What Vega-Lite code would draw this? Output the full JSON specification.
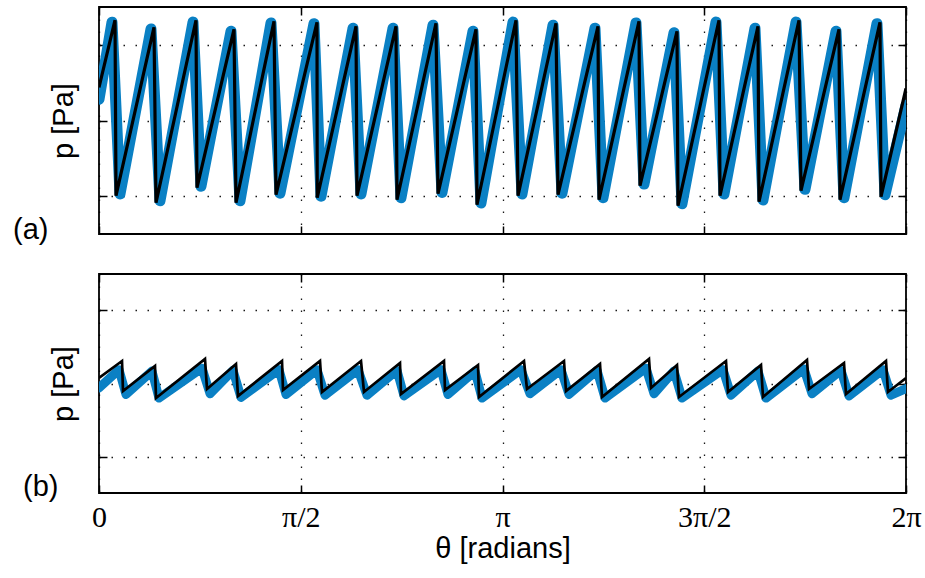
{
  "$schema": "https://vega.github.io/schema/vega-lite/v6.json",
  "padding": {"left": 12, "top": 5, "right": 5, "bottom": 5},
  "background": "white",
  "spacing": 40,
  "bounds": "flush",
  "config": {
    "view": {"stroke": "black", "strokeWidth": 1.8},
    "font": "Liberation Sans",
    "axis": {"domain": false, "tickColor": "black", "tickWidth": 1.5, "gridColor": "black", "gridDash": [1.5, 10.5], "gridWidth": 1.3, "gridOpacity": 0.9, "titleColor": "black", "labelColor": "black", "titleFontWeight": "normal"}
  },
  "datasets": {
    "topBlack": [
      {"theta": 0, "p": 0.437},
      {"theta": 0.1246, "p": 1.325}, {"theta": 0.1324, "p": -0.993},
      {"theta": 0.4282, "p": 1.232}, {"theta": 0.4438, "p": -1.086},
      {"theta": 0.7552, "p": 1.325}, {"theta": 0.7630, "p": -0.887},
      {"theta": 1.0511, "p": 1.205}, {"theta": 1.0667, "p": -1.086},
      {"theta": 1.3625, "p": 1.311}, {"theta": 1.3781, "p": -0.980},
      {"theta": 1.6973, "p": 1.298}, {"theta": 1.6990, "p": -1.020},
      {"theta": 2.0010, "p": 1.245}, {"theta": 2.0087, "p": -0.993},
      {"theta": 2.3124, "p": 1.245}, {"theta": 2.3202, "p": -1.046},
      {"theta": 2.6238, "p": 1.285}, {"theta": 2.6394, "p": -0.967},
      {"theta": 2.9352, "p": 1.205}, {"theta": 2.9430, "p": -1.113},
      {"theta": 3.2467, "p": 1.325}, {"theta": 3.2623, "p": -0.993},
      {"theta": 3.5581, "p": 1.285}, {"theta": 3.5737, "p": -0.980},
      {"theta": 3.8851, "p": 1.245}, {"theta": 3.8929, "p": -1.046},
      {"theta": 4.2043, "p": 1.311}, {"theta": 4.2121, "p": -0.861},
      {"theta": 4.5002, "p": 1.179}, {"theta": 4.5080, "p": -1.126},
      {"theta": 4.8272, "p": 1.325}, {"theta": 4.8350, "p": -0.993},
      {"theta": 5.1308, "p": 1.245}, {"theta": 5.1386, "p": -1.073},
      {"theta": 5.4501, "p": 1.325}, {"theta": 5.4656, "p": -0.927},
      {"theta": 5.7615, "p": 1.205}, {"theta": 5.7693, "p": -1.046},
      {"theta": 6.0807, "p": 1.298}, {"theta": 6.0885, "p": -1.007},
      {"theta": 6.2832, "p": 0.424}
    ],
    "topBlue": [
      {"theta": 0, "p": 0.28},
      {"theta": 0.1012, "p": 1.30}, {"theta": 0.1635, "p": -0.97},
      {"theta": 0.4048, "p": 1.21}, {"theta": 0.4749, "p": -1.06},
      {"theta": 0.7318, "p": 1.30}, {"theta": 0.7941, "p": -0.87},
      {"theta": 1.0277, "p": 1.18}, {"theta": 1.0978, "p": -1.06},
      {"theta": 1.3391, "p": 1.29}, {"theta": 1.4092, "p": -0.96},
      {"theta": 1.6739, "p": 1.28}, {"theta": 1.7284, "p": -1.00},
      {"theta": 1.9776, "p": 1.22}, {"theta": 2.0398, "p": -0.97},
      {"theta": 2.2890, "p": 1.22}, {"theta": 2.3513, "p": -1.02},
      {"theta": 2.6004, "p": 1.26}, {"theta": 2.6705, "p": -0.95},
      {"theta": 2.9118, "p": 1.18}, {"theta": 2.9741, "p": -1.09},
      {"theta": 3.2233, "p": 1.30}, {"theta": 3.2934, "p": -0.97},
      {"theta": 3.5347, "p": 1.26}, {"theta": 3.6048, "p": -0.96},
      {"theta": 3.8617, "p": 1.22}, {"theta": 3.9240, "p": -1.02},
      {"theta": 4.1809, "p": 1.29}, {"theta": 4.2432, "p": -0.84},
      {"theta": 4.4768, "p": 1.16}, {"theta": 4.5391, "p": -1.10},
      {"theta": 4.8038, "p": 1.30}, {"theta": 4.8661, "p": -0.97},
      {"theta": 5.1074, "p": 1.22}, {"theta": 5.1697, "p": -1.05},
      {"theta": 5.4267, "p": 1.30}, {"theta": 5.4967, "p": -0.91},
      {"theta": 5.7381, "p": 1.18}, {"theta": 5.8004, "p": -1.02},
      {"theta": 6.0573, "p": 1.28}, {"theta": 6.1196, "p": -0.98},
      {"theta": 6.2832, "p": 0.20}
    ],
    "botBlack": [
      {"theta": 0, "p": 0.075},
      {"theta": 0.1791, "p": 0.308}, {"theta": 0.1869, "p": -0.103},
      {"theta": 0.4360, "p": 0.240}, {"theta": 0.4438, "p": -0.199},
      {"theta": 0.8253, "p": 0.336}, {"theta": 0.8409, "p": -0.075},
      {"theta": 1.0667, "p": 0.267}, {"theta": 1.0822, "p": -0.171},
      {"theta": 1.4248, "p": 0.308}, {"theta": 1.4326, "p": -0.089},
      {"theta": 1.7207, "p": 0.308}, {"theta": 1.7362, "p": -0.116},
      {"theta": 2.0399, "p": 0.308}, {"theta": 2.0632, "p": -0.116},
      {"theta": 2.3435, "p": 0.281}, {"theta": 2.3513, "p": -0.144},
      {"theta": 2.6861, "p": 0.308}, {"theta": 2.6939, "p": -0.089},
      {"theta": 2.9508, "p": 0.253}, {"theta": 2.9586, "p": -0.185},
      {"theta": 3.3090, "p": 0.308}, {"theta": 3.3323, "p": -0.075},
      {"theta": 3.6204, "p": 0.308}, {"theta": 3.6360, "p": -0.103},
      {"theta": 3.9007, "p": 0.267}, {"theta": 3.9163, "p": -0.185},
      {"theta": 4.2822, "p": 0.336}, {"theta": 4.2978, "p": -0.062},
      {"theta": 4.5002, "p": 0.253}, {"theta": 4.5158, "p": -0.185},
      {"theta": 4.8817, "p": 0.308}, {"theta": 4.8973, "p": -0.116},
      {"theta": 5.1542, "p": 0.253}, {"theta": 5.1698, "p": -0.185},
      {"theta": 5.5123, "p": 0.322}, {"theta": 5.5279, "p": -0.075},
      {"theta": 5.8004, "p": 0.281}, {"theta": 5.8160, "p": -0.144},
      {"theta": 6.1274, "p": 0.308}, {"theta": 6.1430, "p": -0.116},
      {"theta": 6.2832, "p": 0.075}
    ],
    "botBlue": [
      {"theta": 0, "p": -0.06},
      {"theta": 0.1557, "p": 0.19}, {"theta": 0.2103, "p": -0.15},
      {"theta": 0.4126, "p": 0.17}, {"theta": 0.4672, "p": -0.20},
      {"theta": 0.8019, "p": 0.21}, {"theta": 0.8643, "p": -0.14},
      {"theta": 1.0433, "p": 0.18}, {"theta": 1.1056, "p": -0.19},
      {"theta": 1.4014, "p": 0.19}, {"theta": 1.4560, "p": -0.15},
      {"theta": 1.6973, "p": 0.19}, {"theta": 1.7596, "p": -0.16},
      {"theta": 2.0165, "p": 0.19}, {"theta": 2.0866, "p": -0.16},
      {"theta": 2.3201, "p": 0.18}, {"theta": 2.3747, "p": -0.17},
      {"theta": 2.6627, "p": 0.19}, {"theta": 2.7173, "p": -0.15},
      {"theta": 2.9274, "p": 0.17}, {"theta": 2.9820, "p": -0.20},
      {"theta": 3.2856, "p": 0.19}, {"theta": 3.3557, "p": -0.14},
      {"theta": 3.5970, "p": 0.19}, {"theta": 3.6594, "p": -0.15},
      {"theta": 3.8773, "p": 0.18}, {"theta": 3.9397, "p": -0.20},
      {"theta": 4.2588, "p": 0.21}, {"theta": 4.3212, "p": -0.14},
      {"theta": 4.4768, "p": 0.17}, {"theta": 4.5392, "p": -0.20},
      {"theta": 4.8583, "p": 0.19}, {"theta": 4.9207, "p": -0.16},
      {"theta": 5.1308, "p": 0.17}, {"theta": 5.1932, "p": -0.20},
      {"theta": 5.4889, "p": 0.20}, {"theta": 5.5513, "p": -0.14},
      {"theta": 5.7770, "p": 0.18}, {"theta": 5.8394, "p": -0.17},
      {"theta": 6.1040, "p": 0.19}, {"theta": 6.1664, "p": -0.16},
      {"theta": 6.2832, "p": -0.07}
    ]
  },
  "vconcat": [
    {
      "width": 807,
      "height": 227,
      "title": {"text": "(a)", "orient": "bottom", "anchor": "start", "frame": "group", "offset": 0, "dx": -86, "dy": -19, "fontSize": 29, "fontWeight": "normal", "font": "Liberation Sans", "baseline": "top", "color": "black"},
      "layer": [
        {
          "data": {"name": "topBlue"},
          "mark": {"type": "line", "color": "#0a80c4", "strokeWidth": 11, "strokeJoin": "round", "strokeCap": "round", "clip": true},
          "encoding": {
            "x": {"field": "theta", "type": "quantitative", "scale": {"domain": [0, 6.2832], "nice": false, "zero": false},
              "axis": {"orient": "bottom", "values": [0, 1.5708, 3.1416, 4.7124, 6.2832], "labels": false, "tickSize": -8, "grid": true, "title": null}},
            "y": {"field": "p", "type": "quantitative", "scale": {"domain": [-1.5, 1.5], "nice": false, "zero": false},
              "axis": {"orient": "left", "values": [-1, 0, 1], "labels": false, "tickSize": -8, "grid": true, "title": "p [Pa]", "titleFontSize": 29, "titleFont": "Liberation Sans", "titlePadding": 20}}
          }
        },
        {
          "data": {"name": "topBlack"},
          "mark": {"type": "line", "color": "black", "strokeWidth": 3.2, "clip": true},
          "encoding": {
            "x": {"field": "theta", "type": "quantitative", "scale": {"domain": [0, 6.2832], "nice": false, "zero": false},
              "axis": {"orient": "top", "values": [0, 1.5708, 3.1416, 4.7124, 6.2832], "labels": false, "tickSize": -8, "grid": false, "title": null}},
            "y": {"field": "p", "type": "quantitative", "scale": {"domain": [-1.5, 1.5], "nice": false, "zero": false},
              "axis": {"orient": "right", "values": [-1, 0, 1], "labels": false, "tickSize": -8, "grid": false, "title": null}}
          }
        }
      ],
      "resolve": {"axis": {"x": "independent", "y": "independent"}}
    },
    {
      "width": 807,
      "height": 219,
      "title": {"text": "(b)", "orient": "bottom", "anchor": "start", "frame": "group", "offset": 0, "dx": -76, "dy": -90, "fontSize": 29, "fontWeight": "normal", "font": "Liberation Sans", "baseline": "top", "color": "black"},
      "layer": [
        {
          "data": {"name": "botBlue"},
          "mark": {"type": "line", "color": "#0a80c4", "strokeWidth": 9, "strokeJoin": "round", "strokeCap": "round", "clip": true},
          "encoding": {
            "x": {"field": "theta", "type": "quantitative", "scale": {"domain": [0, 6.2832], "nice": false, "zero": false},
              "axis": {"orient": "bottom", "values": [0, 1.5708, 3.1416, 4.7124, 6.2832], "labels": true, "labelExpr": "['0','π/2','π','3π/2','2π'][round(datum.value/1.5708)]", "labelFont": "Liberation Serif", "labelFontSize": 30, "labelPadding": 17, "labelFlush": false, "labelOverlap": false, "tickSize": -8, "grid": true, "title": "θ [radians]", "titleFontSize": 29, "titleFont": "Liberation Sans", "titlePadding": 2}},
            "y": {"field": "p", "type": "quantitative", "scale": {"domain": [-1.5, 1.5], "nice": false, "zero": false},
              "axis": {"orient": "left", "values": [-1, 0, 1], "labels": false, "tickSize": -8, "grid": true, "title": "p [Pa]", "titleFontSize": 29, "titleFont": "Liberation Sans", "titlePadding": 20}}
          }
        },
        {
          "data": {"name": "botBlack"},
          "mark": {"type": "line", "color": "black", "strokeWidth": 2.7, "clip": true},
          "encoding": {
            "x": {"field": "theta", "type": "quantitative", "scale": {"domain": [0, 6.2832], "nice": false, "zero": false},
              "axis": {"orient": "top", "values": [0, 1.5708, 3.1416, 4.7124, 6.2832], "labels": false, "tickSize": -8, "grid": false, "title": null}},
            "y": {"field": "p", "type": "quantitative", "scale": {"domain": [-1.5, 1.5], "nice": false, "zero": false},
              "axis": {"orient": "right", "values": [-1, 0, 1], "labels": false, "tickSize": -8, "grid": false, "title": null}}
          }
        }
      ],
      "resolve": {"axis": {"x": "independent", "y": "independent"}}
    }
  ]
}
